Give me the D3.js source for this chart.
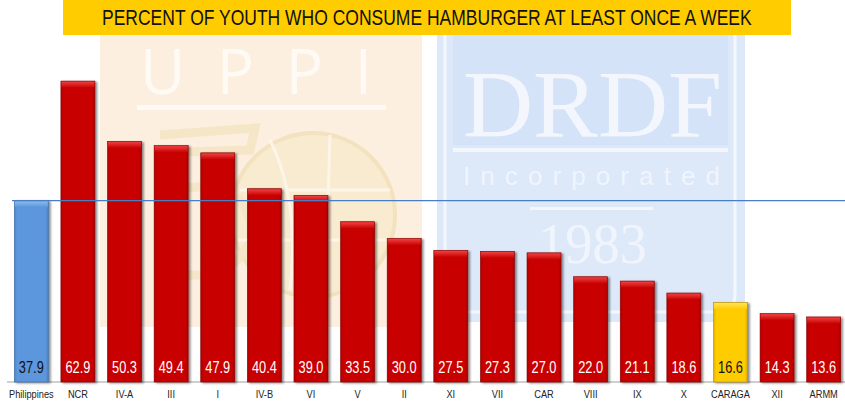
<!DOCTYPE html>
<html><head><meta charset="utf-8">
<script src="https://cdn.jsdelivr.net/npm/d3@7"></script>
<style>
html,body{margin:0;padding:0;background:#fff;}
svg{display:block;}
</style></head>
<body>
<svg id="chart" width="845" height="407"></svg>
<script>
const categories = ["Philippines","NCR","IV-A","III","I","IV-B","VI","V","II","XI","VII","CAR","VIII","IX","X","CARAGA","XII","ARMM"];
const values = [37.9,62.9,50.3,49.4,47.9,40.4,39.0,33.5,30.0,27.5,27.3,27.0,22.0,21.1,18.6,16.6,14.3,13.6];
const barKinds = ["national","region","region","region","region","region","region","region","region","region","region","region","region","region","region","highlight","region","region"];
const referenceValue = 37.9;
const title = "PERCENT OF YOUTH WHO CONSUME HAMBURGER AT LEAST ONCE A WEEK";

const svg = d3.select("#chart");
const sans = "'Liberation Sans',Arial,sans-serif";

const defs = svg.append("defs");
const pal = {
  national: {fill:"#5b97dd", top:"#8fbaf0", stroke:"#3b6aa3", text:"#111"},
  region: {fill:"#c80404", top:"#f04040", stroke:"#8a0000", text:"#fff"},
  highlight: {fill:"#ffcc00", top:"#ffe45a", stroke:"#b38d00", text:"#111"}
};
Object.entries(pal).forEach(([k,c])=>{
  const g = defs.append("linearGradient").attr("id","top-"+k).attr("x1",0).attr("x2",0).attr("y1",0).attr("y2",1);
  g.append("stop").attr("offset","0%").attr("stop-color",c.top);
  g.append("stop").attr("offset","100%").attr("stop-color",c.fill);
  const s = defs.append("linearGradient").attr("id","side-"+k).attr("x1",0).attr("x2",1).attr("y1",0).attr("y2",0);
  s.append("stop").attr("offset","0%").attr("stop-color",d3.color(c.fill).darker(0.4));
  s.append("stop").attr("offset","8%").attr("stop-color",c.fill);
  s.append("stop").attr("offset","92%").attr("stop-color",c.fill);
  s.append("stop").attr("offset","100%").attr("stop-color",d3.color(c.fill).darker(0.5));
});
const f = defs.append("filter").attr("id","shadow").attr("x","-20%").attr("y","-5%").attr("width","150%").attr("height","115%");
f.append("feDropShadow").attr("dx",2).attr("dy",1).attr("stdDeviation",1.2).attr("flood-color","#000").attr("flood-opacity",0.45);

function condense(sel, cx, cy, opts){
  sel.each(function(){
    const len = this.getComputedTextLength();
    const s = opts.width ? opts.width/len : opts.scale;
    d3.select(this).attr("x",0).attr("y",0).attr("transform",`translate(${cx},${cy}) scale(${s},1)`);
  });
}

// ---- watermark background ----
const wm = svg.append("g");
wm.append("rect").attr("x",100).attr("y",34).attr("width",322).attr("height",293).attr("fill","#fcefe0");
wm.append("text").attr("x",140).attr("y",94).attr("textLength",232).attr("lengthAdjust","spacing")
  .attr("font-family","'Open Sans',Lato,sans-serif").attr("font-weight",400).attr("font-size",62)
  .attr("fill","#fffaf4").text("UPPI");
wm.append("rect").attr("x",137).attr("y",105).attr("width",249).attr("height",5).attr("fill","#fffaf4");
wm.append("circle").attr("cx",313).attr("cy",215).attr("r",82).attr("fill","#f8ebcf").attr("stroke","#f3e2bf").attr("stroke-width",4);
wm.append("path").attr("d","M160,135 L255,128 L250,150 L185,152 L180,190 Q215,180 240,200 Q265,235 235,262 Q205,285 165,268")
  .attr("fill","none").attr("stroke","#f6e6c8").attr("stroke-width",9);
wm.append("path").attr("d","M270,140 Q300,200 290,290 M330,135 L325,295 M240,190 L390,190 M238,240 L388,240")
  .attr("fill","none").attr("stroke","#fdf5e8").attr("stroke-width",3);
wm.append("rect").attr("x",437).attr("y",35).attr("width",308).attr("height",287).attr("rx",22).attr("fill","#dde8f9");
wm.append("rect").attr("x",437).attr("y",35).attr("width",308).attr("height",30).attr("fill","#dde8f9");
wm.append("path").attr("d","M445,35 V294 Q445,312 463,312 H717 Q735,312 735,294 V35")
  .attr("fill","none").attr("stroke","#f4f8fe").attr("stroke-width",3);
wm.append("rect").attr("x",453).attr("y",35).attr("width",275).attr("height",110).attr("fill","#d4e3f8");
wm.append("text").attr("x",463).attr("y",137).attr("textLength",259).attr("lengthAdjust","spacingAndGlyphs")
  .attr("font-family","'Liberation Serif','DejaVu Serif',serif").attr("font-size",96).attr("fill","#f3f7fd").text("DRDF");
wm.append("rect").attr("x",453).attr("y",148).attr("width",275).attr("height",4).attr("fill","#f3f7fd");
wm.append("text").attr("x",463).attr("y",185).attr("textLength",257).attr("lengthAdjust","spacing")
  .attr("font-family",sans).attr("font-size",26).attr("fill","#f0f5fd").text("Incorporated");
wm.append("rect").attr("x",530).attr("y",207).attr("width",123).attr("height",3).attr("fill","#f3f7fd");
wm.append("text").attr("x",538).attr("y",263).attr("textLength",109).attr("lengthAdjust","spacingAndGlyphs")
  .attr("font-family","'Liberation Serif','DejaVu Serif',serif").attr("font-size",58).attr("fill","#f0f5fd").text("1983");

// ---- title ----
svg.append("rect").attr("x",63).attr("y",0).attr("width",728).attr("height",35).attr("fill","#ffcc00");
svg.append("text").attr("font-family",sans).attr("font-size",21.5).attr("fill","#111").text(title)
  .call(condense, 102, 25, {width:650});

// ---- scales ----
const x = d3.scaleBand().domain(categories).range([8,847]).paddingInner(0.27).paddingOuter(0.135);
const y = d3.scaleLinear().domain([0,70]).range([382,47.1]);

const xAxis = d3.axisBottom(x).tickSize(0).tickPadding(10);
const ax = svg.append("g").attr("transform",`translate(0,${y(0)})`).call(xAxis);
ax.select(".domain").attr("stroke","#a0a0a0").attr("d",`M7,0H845`);
ax.selectAll(".tick text").attr("font-family",sans).attr("font-size",10.5).attr("fill","#222").attr("dy","0.55em")
  .attr("x",0).attr("transform","scale(0.88,1)");

// bars
const data = categories.map((c,i)=>({c, v:values[i], k:barKinds[i]}));
const bars = svg.append("g").selectAll("g").data(data).join("g");
bars.append("rect")
  .attr("x",d=>x(d.c)).attr("y",d=>y(d.v)).attr("width",x.bandwidth()).attr("height",d=>y(0)-y(d.v))
  .attr("fill",d=>`url(#side-${d.k})`).attr("stroke",d=>pal[d.k].stroke).attr("stroke-width",0.6)
  .attr("filter","url(#shadow)");
bars.append("rect")
  .attr("x",d=>x(d.c)+0.5).attr("y",d=>y(d.v)+0.5).attr("width",x.bandwidth()-1).attr("height",6)
  .attr("fill",d=>`url(#top-${d.k})`);
bars.append("text")
  .attr("text-anchor","middle").attr("font-family",sans).attr("font-size",16)
  .attr("fill",d=>pal[d.k].text).text(d=>d.v.toFixed(1))
  .each(function(d){
    d3.select(this).attr("transform",`translate(${x(d.c)+x.bandwidth()/2},${y(0)-9}) scale(0.8,1)`);
  });

// reference line
svg.append("line").attr("x1",12).attr("x2",845).attr("y1",y(referenceValue)).attr("y2",y(referenceValue))
  .attr("stroke","#4a7ec4").attr("stroke-width",1.2);
</script>
</body></html>
